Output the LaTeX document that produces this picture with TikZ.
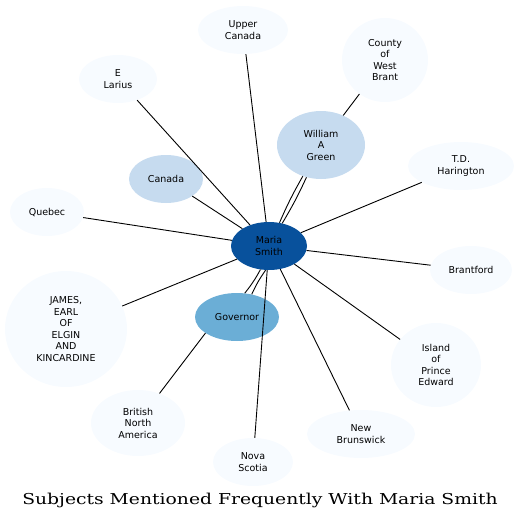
\documentclass[tikz,border=0pt]{standalone}
\usepackage{fontspec}
\newfontfamily\dejavu{DejaVu Sans}
\newfontfamily\dejavuserif{DejaVu Serif}
\usetikzlibrary{shapes.geometric}
\definecolor{c0}{HTML}{F7FBFF}
\definecolor{c1}{HTML}{C6DBEF}
\definecolor{c2}{HTML}{6BAED6}
\definecolor{c3}{HTML}{08519C}
\begin{document}
\begin{tikzpicture}[x=1pt,y=-1pt,
  ent/.style={ellipse,inner sep=0pt,align=center,font=\dejavu\fontsize{9.5}{11.5}\selectfont},
  link/.style={draw=black,line width=0.9pt}]
\useasboundingbox (0,0) rectangle (521,523);
\node[ent,fill=c3,minimum width=76pt,minimum height=48pt] (maria) at (269,246) {Maria\\Smith};
\node[ent,fill=c1,minimum width=88pt,minimum height=68pt] (william) at (321,145) {William\\A\\Green};
\node[ent,fill=c1,minimum width=74pt,minimum height=48pt] (canada) at (166,179) {Canada};
\node[ent,fill=c2,minimum width=84pt,minimum height=48pt] (gov) at (237,317) {Governor};
\node[ent,fill=c0,minimum width=90pt,minimum height=48pt] (upper) at (243,30) {Upper\\Canada};
\node[ent,fill=c0,minimum width=78pt,minimum height=48pt] (larius) at (118,79) {E\\Larius};
\node[ent,fill=c0,minimum width=86pt,minimum height=84pt] (county) at (385,60) {County\\of\\West\\Brant};
\node[ent,fill=c0,minimum width=106pt,minimum height=48pt] (td) at (461,166) {T.D.\\Harington};
\node[ent,fill=c0,minimum width=74pt,minimum height=48pt] (quebec) at (47,212) {Quebec};
\node[ent,fill=c0,minimum width=82pt,minimum height=48pt] (brant) at (471,270) {Brantford};
\node[ent,fill=c0,minimum width=122pt,minimum height=116pt] (james) at (66,329) {JAMES,\\EARL\\OF\\ELGIN\\AND\\KINCARDINE};
\node[ent,fill=c0,minimum width=90pt,minimum height=84pt] (island) at (436,365) {Island\\of\\Prince\\Edward};
\node[ent,fill=c0,minimum width=108pt,minimum height=48pt] (newb) at (361,434) {New\\Brunswick};
\node[ent,fill=c0,minimum width=94pt,minimum height=66pt] (bna) at (138,423) {British\\North\\America};
\node[ent,fill=c0,minimum width=80pt,minimum height=48pt] (nova) at (253,462) {Nova\\Scotia};
\node[font=\dejavuserif\fontsize{15}{17}\selectfont] (title) at (260,500) {\scalebox{1.25}[1]{Subjects Mentioned Frequently With Maria Smith}};
\draw[link] (maria) to[bend left=3] (william);
\draw[link] (maria) to[bend right=3] (william);
\draw[link] (maria.250) to[bend left=5] (gov.72);
\draw[link] (maria.262) to[bend right=5] (gov.57);
\draw[link] (william) -- (county);
\draw[link] (gov.207) -- (bna.54);
\draw[link] (maria) -- (canada);
\draw[link] (maria) -- (larius);
\draw[link] (maria) -- (upper);
\draw[link] (maria) -- (quebec);
\draw[link] (maria) -- (td);
\draw[link] (maria) -- (brant);
\draw[link] (maria) -- (island);
\draw[link] (maria) -- (newb);
\draw[link] (maria) -- (nova);
\draw[link] (maria) -- (james);
\end{tikzpicture}
\end{document}
